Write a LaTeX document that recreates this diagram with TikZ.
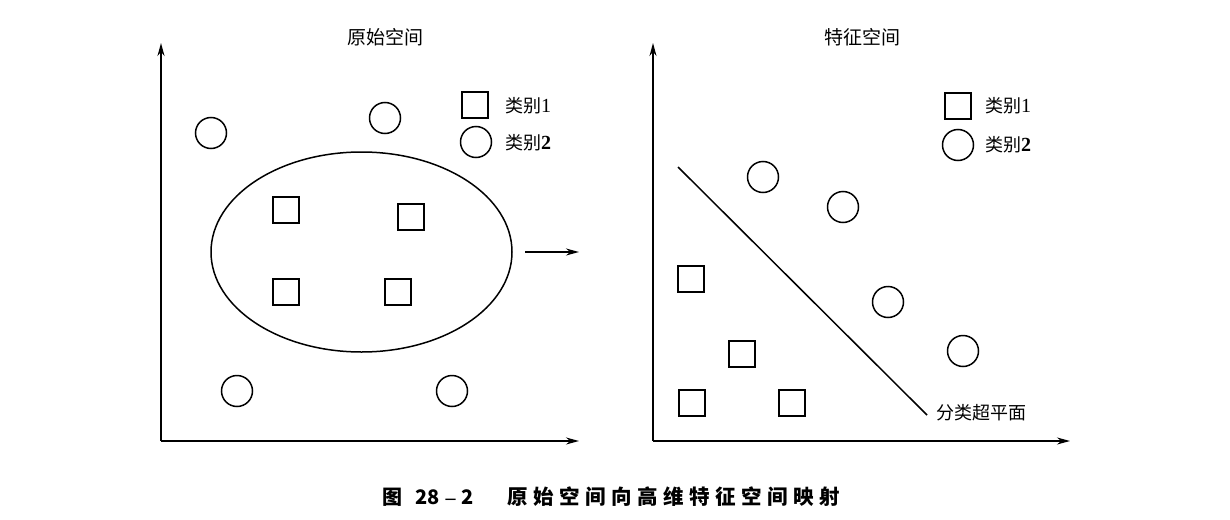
\documentclass[tikz,border=0pt]{standalone}
\usepackage{fontspec}
\usetikzlibrary{arrows.meta,shapes.geometric}
\newfontfamily\cjk{Noto Sans CJK SC}
\newfontfamily\numf{Liberation Serif}
\tikzset{
  ax/.style={line width=1.6pt,-{Stealth[length=13pt,width=7pt]}},
  sq/.style={draw,line width=1.5pt,minimum size=26pt,inner sep=0pt},
  ci/.style={draw,circle,line width=1.5pt,minimum size=31pt,inner sep=0pt},
  ttl/.style={font=\cjk\fontsize{19}{19}\selectfont,inner sep=0pt},
  lab/.style={font=\cjk\fontsize{18}{18}\selectfont,inner sep=0pt,anchor=west},
}
\begin{document}
\begin{tikzpicture}[x=1pt,y=-1pt]
\useasboundingbox (0,0) rectangle (1230,519);
% ---------- left panel ----------
\coordinate (lo) at (161,441);
\coordinate (ly) at (161,43);
\coordinate (lx) at (579,441);
\draw[ax] (lo) -- (ly);
\draw[ax] (lo) -- (lx);
\node[ttl] (t1) at (385,37) {原始空间};
\node[draw,ellipse,line width=1.5pt,minimum width=301pt,minimum height=200pt,inner sep=0pt] (el) at (361.5,252) {};
\node[ci] (c1) at (211,133) {};
\node[ci] (c2) at (385,118) {};
\node[ci] (c3) at (237,391) {};
\node[ci] (c4) at (452,391) {};
\node[sq] (s1) at (286,210) {};
\node[sq] (s2) at (411,217) {};
\node[sq] (s3) at (286,292) {};
\node[sq] (s4) at (398,292) {};
\node[sq] (ls1) at (475,105) {};
\node[ci] (lc1) at (476,142) {};
\node[lab] (lt1) at (505,106) {类别{\numf\fontsize{20}{20}\selectfont 1}};
\node[lab] (lt2) at (505,143) {类别{\numf\bfseries\fontsize{20}{20}\selectfont 2}};
\coordinate (ma) at (525,252);
\coordinate (mb) at (579,252);
\draw[ax] (ma) -- (mb);
% ---------- right panel ----------
\coordinate (ro) at (653,441);
\coordinate (ry) at (653,43);
\coordinate (rx) at (1070,441);
\draw[ax] (ro) -- (ry);
\draw[ax] (ro) -- (rx);
\node[ttl] (t2) at (862,37) {特征空间};
\node[sq] (rs1) at (958,106) {};
\node[ci] (rc1) at (958,145) {};
\node[lab] (rt1) at (985,106) {类别{\numf\fontsize{20}{20}\selectfont 1}};
\node[lab] (rt2) at (985,145) {类别{\numf\bfseries\fontsize{20}{20}\selectfont 2}};
\coordinate (h1) at (678,167);
\coordinate (h2) at (927,415);
\draw[line width=1.5pt] (h1) -- (h2);
\node[lab] (hl) at (936,413) {分类超平面};
\node[ci] (d1) at (763,177) {};
\node[ci] (d2) at (843,207) {};
\node[ci] (d3) at (888,302) {};
\node[ci] (d4) at (963,351) {};
\node[sq] (e1) at (691,279) {};
\node[sq] (e2) at (742,354) {};
\node[sq] (e3) at (692,403) {};
\node[sq] (e4) at (792,403) {};
% ---------- caption ----------
\node[anchor=west,inner sep=0pt,font=\cjk\bfseries\fontsize{20}{20}\selectfont] (cap1) at (382,497)
  {图\hspace{13pt}28\hspace{6pt}{\numf\bfseries –}\hspace{6pt}2};
\node[anchor=west,inner sep=0pt,font=\cjk\bfseries\fontsize{20.5}{20.5}\selectfont] (cap2) at (507,497)
  {\addfontfeature{LetterSpace=27}原始空间向高维特征空间映射};
\end{tikzpicture}
\end{document}
